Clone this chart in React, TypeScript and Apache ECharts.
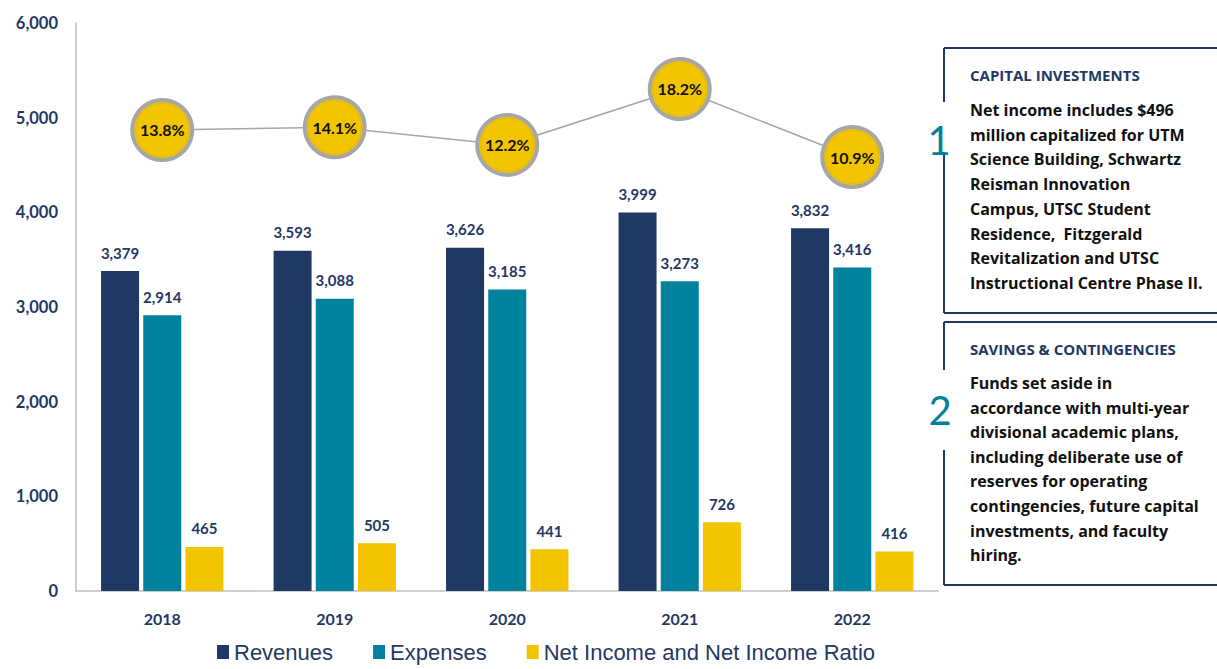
import React, { useEffect, useRef } from "react";
import * as echarts from "echarts";

const years = ["2018", "2019", "2020", "2021", "2022"];
const revenues = [3379, 3593, 3626, 3999, 3832];
const expenses = [2914, 3088, 3185, 3273, 3416];
const netIncome = [465, 505, 441, 726, 416];
const netIncomeRatio = [13.8, 14.1, 12.2, 18.2, 10.9];
const yTicks = [0, 1000, 2000, 3000, 4000, 5000, 6000];

const box1Title = "CAPITAL INVESTMENTS";
const box1Lines = [
  "Net income includes $496",
  "million capitalized for UTM",
  "Science Building, Schwartz",
  "Reisman Innovation",
  "Campus, UTSC Student",
  "Residence,  Fitzgerald",
  "Revitalization and UTSC",
  "Instructional Centre Phase II.",
];
const box2Title = "SAVINGS & CONTINGENCIES";
const box2Lines = [
  "Funds set aside in",
  "accordance with multi-year",
  "divisional academic plans,",
  "including deliberate use of",
  "reserves for operating",
  "contingencies, future capital",
  "investments, and faculty",
  "hiring.",
];

const NAVY = "#1F3864";
const TEAL = "#00829F";
const GOLD = "#F2C500";
const FONT = "Lato, 'Noto Sans', sans-serif";
const BOX_FONT = "'Open Sans', Lato, sans-serif";

function fmt(v: number) {
  return v.toLocaleString("en-US");
}

export default function App() {
  const ref = useRef<HTMLDivElement>(null);
  useEffect(() => {
    if (!ref.current) return;
    const chart = echarts.init(ref.current, undefined, { renderer: "svg" });
    const barLabel = {
      show: true,
      position: "top" as const,
      distance: 11,
      color: NAVY,
      fontWeight: "bold" as const,
      fontSize: 15,
      fontFamily: FONT,
      formatter: (p: any) => fmt(p.value),
    };
    const lineColor = "#111111";
    const graphics: any[] = [];
    const boxLine = (x1: number, y1: number, x2: number, y2: number) => ({
      type: "line",
      shape: { x1, y1, x2, y2 },
      style: { stroke: NAVY, lineWidth: 2 },
    });
    // box 1
    graphics.push(boxLine(944, 48, 1217, 48));
    graphics.push(boxLine(944, 48, 944, 102));
    graphics.push(boxLine(944, 152, 944, 313));
    graphics.push(boxLine(944, 313, 1217, 313));
    // box 2
    graphics.push(boxLine(944, 322, 1217, 322));
    graphics.push(boxLine(944, 322, 944, 370));
    graphics.push(boxLine(944, 450, 944, 585));
    graphics.push(boxLine(944, 585, 1217, 585));
    graphics.push({
      type: "text",
      x: 939,
      y: 140,
      style: { text: "1", fill: TEAL, fontSize: 40, fontFamily: FONT, align: "center", verticalAlign: "middle" },
    });
    graphics.push({
      type: "text",
      x: 940,
      y: 410,
      style: { text: "2", fill: TEAL, fontSize: 40, fontFamily: FONT, align: "center", verticalAlign: "middle" },
    });
    graphics.push({
      type: "text",
      x: 970,
      y: 75,
      style: { text: box1Title, fill: NAVY, fontSize: 15, fontWeight: "bold", fontFamily: BOX_FONT, verticalAlign: "middle" },
    });
    box1Lines.forEach((t, i) =>
      graphics.push({
        type: "text",
        x: 970,
        y: 110 + i * 24.7,
        style: { text: t, fill: lineColor, fontSize: 16, fontWeight: "bold", fontFamily: BOX_FONT, verticalAlign: "middle" },
      })
    );
    graphics.push({
      type: "text",
      x: 970,
      y: 349,
      style: { text: box2Title, fill: NAVY, fontSize: 15, fontWeight: "bold", fontFamily: BOX_FONT, verticalAlign: "middle" },
    });
    box2Lines.forEach((t, i) =>
      graphics.push({
        type: "text",
        x: 970,
        y: 383 + i * 24.6,
        style: { text: t, fill: lineColor, fontSize: 16, fontWeight: "bold", fontFamily: BOX_FONT, verticalAlign: "middle" },
      })
    );

    chart.setOption({
      animation: false,
      backgroundColor: "#FFFFFF",
      grid: { left: 76, right: 278.5, top: 23, bottom: 78, containLabel: false },
      legend: {
        bottom: 1,
        left: 212,
        data: ["Revenues", "Expenses", "Net Income and Net Income Ratio"],
        icon: "rect",
        itemWidth: 12,
        itemHeight: 14,
        itemGap: 40,
        textStyle: { color: NAVY, fontSize: 22, fontFamily: "'Liberation Sans', Arial, sans-serif" },
      },
      xAxis: {
        type: "category",
        data: years,
        axisLine: { show: true, lineStyle: { color: "#BFBFBF", width: 1.5 } },
        axisTick: { show: false },
        axisLabel: { color: NAVY, fontWeight: "bold", fontSize: 16, fontFamily: FONT, margin: 19 },
      },
      yAxis: [
        {
          type: "value",
          min: 0,
          max: 6000,
          interval: 1000,
          axisLine: { show: true, lineStyle: { color: "#BFBFBF", width: 1.5 } },
          axisTick: { show: false },
          splitLine: { show: false },
          axisLabel: {
            color: NAVY,
            fontWeight: "bold",
            fontSize: 16.5,
            fontFamily: FONT,
            margin: 18,
            formatter: (v: number) => (yTicks.includes(v) ? fmt(v) : ""),
          },
        },
        {
          type: "value",
          min: -35.67,
          max: 25.28,
          show: false,
          splitLine: { show: false },
        },
      ],
      series: [
        {
          name: "Revenues",
          type: "bar",
          data: revenues,
          barWidth: 38,
          barGap: "11%",
          itemStyle: { color: NAVY },
          label: barLabel,
        },
        {
          name: "Expenses",
          type: "bar",
          data: expenses,
          barWidth: 38,
          barGap: "11%",
          itemStyle: { color: TEAL },
          label: barLabel,
        },
        {
          name: "Net Income and Net Income Ratio",
          type: "bar",
          data: netIncome,
          barWidth: 38,
          barGap: "11%",
          itemStyle: { color: GOLD },
          label: barLabel,
        },
        {
          name: "Net Income Ratio",
          type: "line",
          yAxisIndex: 1,
          data: netIncomeRatio,
          symbol: "circle",
          symbolSize: 60,
          lineStyle: { color: "#A6A6A6", width: 1.5 },
          itemStyle: { color: GOLD, borderColor: "#A6A6A6", borderWidth: 4 },
          label: {
            show: true,
            position: "inside",
            color: "#111111",
            fontWeight: "bold",
            fontSize: 16,
            fontFamily: FONT,
            formatter: (p: any) => p.value.toFixed(1) + "%",
          },
          z: 5,
        },
        {
          name: "ring",
          type: "line",
          yAxisIndex: 1,
          data: netIncomeRatio,
          symbol: "circle",
          symbolSize: 53,
          lineStyle: { width: 0, opacity: 0 },
          itemStyle: { color: "rgba(0,0,0,0)", borderColor: "#D4AE1A", borderWidth: 1, borderType: "dotted" },
          silent: true,
          z: 6,
        },
      ],
      graphic: graphics,
    });
    return () => chart.dispose();
  }, []);
  return <div ref={ref} style={{ width: 1217, height: 669, position: "absolute", left: 0, top: 0 }} />;
}
